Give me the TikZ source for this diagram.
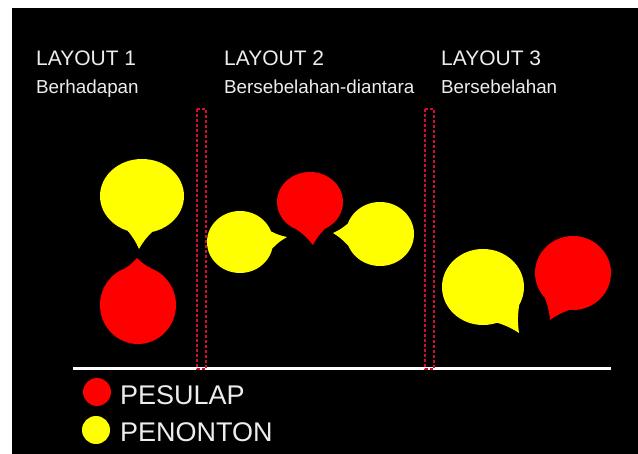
\documentclass[tikz,border=0pt]{standalone}
\usepackage{fontspec}
\setmainfont{Liberation Sans}
\definecolor{bubred}{HTML}{FF0000}
\definecolor{bubyellow}{HTML}{FFFF00}
\definecolor{txtgray}{HTML}{EDEDED}
\definecolor{sepred}{HTML}{D01030}
% speech bubble: cx cy rx ry base-angle-1 base-angle-2 tip-x tip-y colour
\newcommand\spbubble[9]{%
  \fill[#9] (#1,#2) ellipse [x radius=#3, y radius=#4];
  \fill[#9] ([shift={(#1,#2)}]#5:#3 and #4) to[bend right=8] (#7,#8)
            to[bend right=8] ([shift={(#1,#2)}]#6:#3 and #4) -- (#1,#2) -- cycle;
}
\begin{document}
\begin{tikzpicture}[x=1pt,y=-1pt,
  title/.style={anchor=base west, inner sep=0pt, text=txtgray, font=\fontsize{21}{25}\selectfont},
  subtitle/.style={anchor=base west, inner sep=0pt, text=txtgray, font=\fontsize{18.8}{22}\selectfont},
  legendtext/.style={anchor=base west, inner sep=0pt, text=txtgray, font=\fontsize{27}{32}\selectfont},
  separator/.style={draw=sepred, line width=1.1pt, dash pattern=on 3pt off 2pt}]
\useasboundingbox (0,0) rectangle (638,454);
\fill[white] (0,0) rectangle (638,454);
\fill[black] (12,8) rectangle (638,454);

% headings
\node[title] (t1) at (36,66) {LAYOUT 1};
\node[subtitle] (s1) at (36,94) {Berhadapan};
\node[title] (t2) at (224,66) {LAYOUT 2};
\node[subtitle] (s2) at (224,94) {Bersebelahan-diantara};
\node[title] (t3) at (441,66) {LAYOUT 3};
\node[subtitle] (s3) at (441,94) {Bersebelahan};

% layout 1: facing each other
\spbubble{142}{196}{42}{37}{76}{110}{139}{249}{bubyellow}
\spbubble{138}{305}{38}{39}{250}{290}{137}{258}{bubred}

% layout 2: magician between two spectators
\spbubble{240}{242}{33}{31}{-20}{12}{287}{237}{bubyellow}
\spbubble{310}{202}{33}{30}{63}{114}{313}{245}{bubred}
\spbubble{380}{234}{34}{32}{158}{199}{333}{233}{bubyellow}

% layout 3: side by side
\spbubble{483}{287}{41}{38}{28}{70}{519}{333}{bubyellow}
\spbubble{573}{273}{38}{37}{95}{138}{550}{320}{bubred}

% floor line and separators
\coordinate (floorL) at (73,369);
\coordinate (floorR) at (611,369);
\draw[white, line width=3pt] (floorL) -- (floorR);
\draw[separator] (197,109) rectangle (206,369);
\draw[separator] (425,109) rectangle (434,369);

% legend
\fill[bubred] (97,392) circle [radius=14];
\fill[bubyellow] (96,430) circle [radius=14];
\node[legendtext] (l1) at (120,405) {PESULAP};
\node[legendtext] (l2) at (120,442) {PENONTON};
\end{tikzpicture}
\end{document}
